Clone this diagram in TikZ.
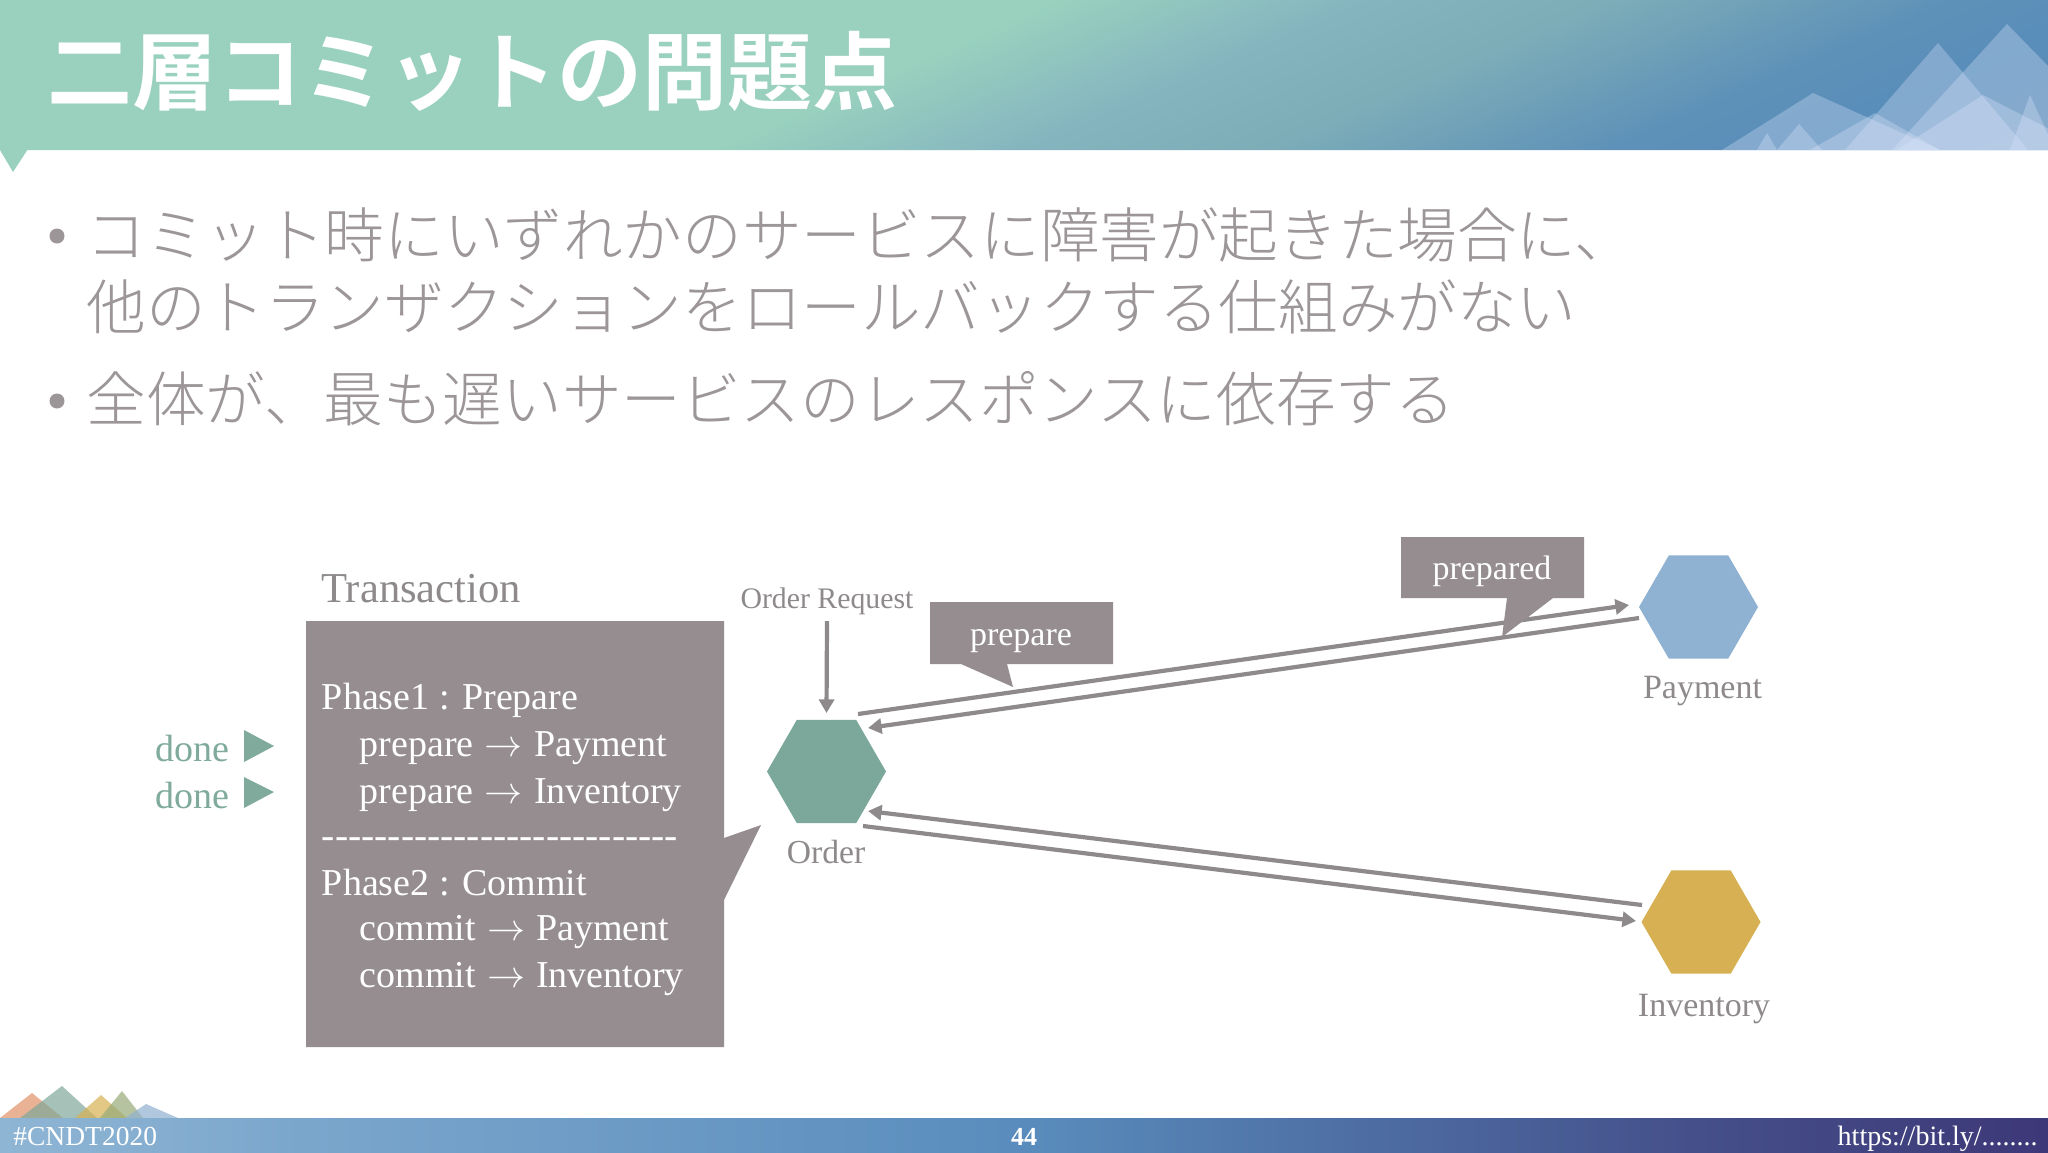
\RequirePackage{fix-cm}
\documentclass[tikz,border=0pt]{standalone}
\usepackage{fontspec}
\usetikzlibrary{shapes.geometric,arrows.meta}
\setmainfont{Liberation Serif}
\newfontfamily\jpb{Noto Sans CJK JP Bold}
\newfontfamily\jpl{Noto Sans CJK JP Light}
\newfontfamily\nolig{Liberation Serif}
\definecolor{boxgray}{HTML}{958D90}
\definecolor{txtgray}{HTML}{8E8A8C}
\definecolor{bodygray}{HTML}{9C9698}
\definecolor{ordergreen}{HTML}{7BA89A}
\definecolor{donegreen}{HTML}{7FAA9C}
\definecolor{payblue}{HTML}{90B2D2}
\definecolor{invyellow}{HTML}{D6B052}
\definecolor{hdrgreen}{HTML}{99D1BE}
\definecolor{pkorange}{HTML}{E29268}
\definecolor{pkgreen}{HTML}{7FA89A}
\definecolor{pkyellow}{HTML}{D8B052}
\definecolor{pkolive}{HTML}{96AA78}
\definecolor{pkblue}{HTML}{90B0D0}
\definecolor{mountc}{HTML}{E2EAFF}
\pgfdeclarehorizontalshading{hdrshade}{100bp}{
 rgb(0bp)=(0.60,0.82,0.745);rgb(47bp)=(0.60,0.82,0.745);rgb(53.5bp)=(0.52,0.71,0.75);rgb(58.5bp)=(0.49,0.68,0.72);rgb(65.75bp)=(0.37,0.57,0.72);rgb(69.5bp)=(0.35,0.556,0.73);rgb(75bp)=(0.37,0.56,0.71);rgb(100bp)=(0.37,0.56,0.71)}
\pgfdeclarehorizontalshading{ftrshade}{100bp}{
 rgb(0bp)=(0.56,0.71,0.83);rgb(25bp)=(0.56,0.71,0.83);rgb(32.5bp)=(0.48,0.65,0.80);rgb(50bp)=(0.35,0.55,0.74);rgb(59bp)=(0.30,0.42,0.63);rgb(66.5bp)=(0.27,0.31,0.54);rgb(75bp)=(0.24,0.22,0.47);rgb(100bp)=(0.24,0.22,0.47)}
\newcommand{\fs}[1]{\fontsize{#1}{#1}\selectfont}
\newcommand{\arr}{\hspace{.8pt}$\rightarrow$\hspace{.8pt}}
\tikzset{
 x=0.5pt,y=-0.5pt,
 hex/.style={regular polygon,regular polygon sides=6,minimum size=59.5pt,inner sep=0pt,outer sep=0pt,draw=none,fill=#1},
 flow/.style={draw=txtgray,line width=2.1pt,-{Triangle[length=6.8pt,width=7.5pt]}},
 lbl/.style={text=txtgray,anchor=base,inner sep=0pt},
 body/.style={text=bodygray,anchor=base west,inner sep=0pt,font=\jpl\fs{29.8}},
 boxtxt/.style={text=white,anchor=base west,inner sep=0pt,font=\fs{19}},
 calltxt/.style={text=white,anchor=base,inner sep=0pt,font=\fs{17}},
 callout/.style={fill=boxgray,draw=none},
 mount/.style={fill=mountc,fill opacity=.3,draw=none},
 peak/.style={fill=#1,fill opacity=.7,draw=none},
 dot/.style={circle,fill=bodygray,minimum size=7.5pt,inner sep=0pt,draw=none},
 donetxt/.style={text=donegreen,anchor=base west,inner sep=0pt,font=\fs{19}},
 footer/.style={anchor=base,inner sep=0pt,text=white,font=\fs{13.75}},
}
\begin{document}
\begin{tikzpicture}
\useasboundingbox (0,0) rectangle (2048,1152);
\fill[white] (0,0) rectangle (2048,1152);
% header
\begin{scope}
\clip (0,0) rectangle (2048,150);
\begin{scope}[transform canvas={xslant=2.3}]
\path[shade,shading=hdrshade,shading angle=0] (0,0) rectangle (2393,150);
\end{scope}
\fill[mount] (1722,150)--(1813,93)--(1940,150)--cycle;
\fill[mount] (1777,150)--(1799,124)--(1822,150)--cycle;
\fill[mount] (1757,150)--(1767,133)--(1777,150)--cycle;
\fill[mount] (1845,150)--(1938,43)--(2028,150)--cycle;
\fill[mount] (1892,150)--(2007,24)--(2130,150)--cycle;
\fill[mount] (1810,150)--(1875,113)--(1940,150)--cycle;
\fill[mount] (1897,150)--(1983,95)--(2090,150)--cycle;
\fill[mount] (2010,150)--(2030,95)--(2055,150)--cycle;
\end{scope}
\fill[hdrgreen] (0,149)--(28,149)--(13,172)--(0,150)--cycle;
\node (title) [anchor=base west,inner sep=0pt,text=white,font=\jpb\fs{42.5}] at (47,103) {二層コミットの問題点};
% bullets
\node (b1) [dot] at (57,236) {};
\node (l1) [body] at (86,257) {コミット時にいずれかのサービスに障害が起きた場合に、};
\node (l2) [body] at (86,329) {他のトランザクションをロールバックする仕組みがない};
\node (b2) [dot] at (57,401) {};
\node (l3) [body] at (86,421) {全体が、最も遅いサービスのレスポンスに依存する};
% transaction box
\node (tx) [lbl,anchor=base west,font=\fs{21.3}] at (321,602) {Transaction};
\fill[callout] (306,621)--(724,621)--(724,838)--(761,825)--(724,900)--(724,1047)--(306,1047)--cycle;
\node (p1) [boxtxt] at (321.5,709) {Phase1 : Prepare};
\node (p2) [boxtxt] at (359.5,756) {prepare \arr{} Payment};
\node (p3) [boxtxt] at (359.5,803) {prepare \arr{} Inventory};
\node (sep) [boxtxt,font=\nolig\fs{19.8}] at (321.5,848) {---------------------------};
\node (p4) [boxtxt] at (321.5,895) {Phase2 : Commit};
\node (p5) [boxtxt] at (359.5,940) {commit \arr{} Payment};
\node (p6) [boxtxt] at (359.5,987) {commit \arr{} Inventory};
% done
\node (d1) [donetxt] at (155,761) {done};
\fill[donegreen] (244,730)--(274,746)--(244,762)--cycle;
\node (d2) [donetxt] at (155,808) {done};
\fill[donegreen] (244,777)--(274,792)--(244,808)--cycle;
% hexagons
\node (order) [hex=ordergreen] at (826.5,771.5) {};
\node (payment) [hex=payblue] at (1698.5,607) {};
\node (inventory) [hex=invyellow] at (1701,922) {};
\node (orderl) [lbl,font=\fs{16.8}] at (826,863) {Order};
\node (reql) [lbl,font=\fs{14.9}] at (827,608) {Order Request};
\node (payl) [lbl,font=\fs{17}] at (1702.5,698) {Payment};
\node (invl) [lbl,font=\fs{17}] at (1704,1016) {Inventory};
\coordinate (reqtop) at (827,621);
% connectors
\draw[flow] (reqtop) -- ([shift={(0,-58.5)}]order.center);
\draw[flow] ([shift={(31.5,-57.5)}]order.center) -- ([shift={(-69.5,-2)}]payment.center);
\draw[flow] ([shift={(-59.5,11)}]payment.center) -- ([shift={(41.5,-43.5)}]order.center);
\draw[flow] ([shift={(-59,-17)}]inventory.center) -- ([shift={(41.5,39.5)}]order.center);
\draw[flow] ([shift={(36.5,54.5)}]order.center) -- ([shift={(-65,-1)}]inventory.center);
% callouts
\fill[callout] (930,602)--(1113,602)--(1113,664)--(1007,664)--(1013,687)--(961,664)--(930,664)--cycle;
\node (prep) [calltxt] at (1021,645) {prepare};
\fill[callout] (1401,537)--(1584,537)--(1584,598)--(1553,598)--(1502,637)--(1507,598)--(1401,598)--cycle;
\node (prepd) [calltxt] at (1492,579) {prepared};
% footer mountains
\fill[peak=pkorange] (0,1118)--(32,1093)--(63,1118)--cycle;
\fill[peak=pkgreen] (20,1118)--(62,1086)--(97,1118)--cycle;
\fill[peak=pkyellow] (75,1118)--(101,1095)--(127,1118)--cycle;
\fill[peak=pkolive] (100,1118)--(122,1091)--(143,1118)--cycle;
\fill[peak=pkblue] (125,1118)--(146,1104)--(178,1118)--cycle;
% footer
\path[shade,shading=ftrshade,shading angle=0] (0,1118) rectangle (2048,1152);
\node (tag) [footer,anchor=base west] at (13,1145) {\#CNDT2020};
\node (num) [footer,font=\bfseries\fs{13}] at (1024,1145) {44};
\node (url) [footer,anchor=base east,font=\fs{14}] at (2038,1145) {https://bit.ly/........};
\end{tikzpicture}
\end{document}
